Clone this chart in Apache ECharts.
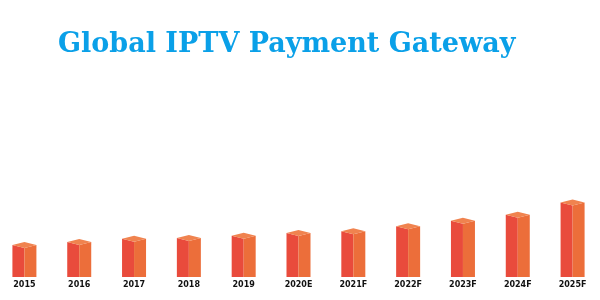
<!DOCTYPE html>
<html>
<head>
<meta charset="utf-8">
<script src="https://cdn.jsdelivr.net/npm/echarts@6/dist/echarts.min.js"></script>
<style>html,body{margin:0;padding:0;background:#fff;overflow:hidden}#c{width:603px;height:300px;margin-left:-3px}</style>
</head>
<body>
<div id="c"></div>
<script>
var titleText = 'Global IPTV Payment Gateway';
var years = ['2015','2016','2017','2018','2019','2020E','2021F','2022F','2023F','2024F','2025F'];
var values = [35, 38, 41.3, 42, 44.3, 47, 48.7, 53.7, 59.3, 65.3, 77.5];

var chart = echarts.init(document.getElementById('c'), null, {renderer: 'canvas'});
chart.setOption({
  animation: false,
  backgroundColor: '#ffffff',
  title: {
    text: titleText,
    left: 56, top: 26,
    textStyle: {fontFamily: 'DejaVu Serif', fontWeight: 'bold', fontSize: 27, color: '#0AA0E8'}
  },
  grid: {left: 0, right: 0, top: 77, bottom: 23, containLabel: false},
  xAxis: {
    type: 'category', data: years,
    axisLine: {show: false}, axisTick: {show: false},
    axisLabel: {margin: 4, fontSize: 8, fontWeight: 'bold', color: '#111', fontFamily: 'DejaVu Sans', interval: 0}
  },
  yAxis: {type: 'value', min: 0, max: 200, show: false, splitLine: {show: false}},
  series: [{
    type: 'custom',
    data: values.map(function (v, i) { return [i, v]; }),
    renderItem: function (params, api) {
      var top = api.coord([api.value(0), api.value(1)]);
      var bot = api.coord([api.value(0), 0]);
      var cx = top[0], ty = top[1], by = bot[1];
      var hw = 12, d = 3;
      return {
        type: 'group',
        children: [
          {type: 'polygon', shape: {points: [[cx - hw, ty + d], [cx, ty + 2 * d], [cx, by], [cx - hw, by]]}, style: {fill: '#E94B3C'}},
          {type: 'polygon', shape: {points: [[cx, ty + 2 * d], [cx + hw, ty + d], [cx + hw, by], [cx, by]]}, style: {fill: '#EC6E3A'}},
          {type: 'polygon', shape: {points: [[cx - hw, ty + d], [cx, ty], [cx + hw, ty + d], [cx, ty + 2 * d]]}, style: {fill: '#F0834F'}}
        ]
      };
    }
  }]
});
</script>
</body>
</html>
